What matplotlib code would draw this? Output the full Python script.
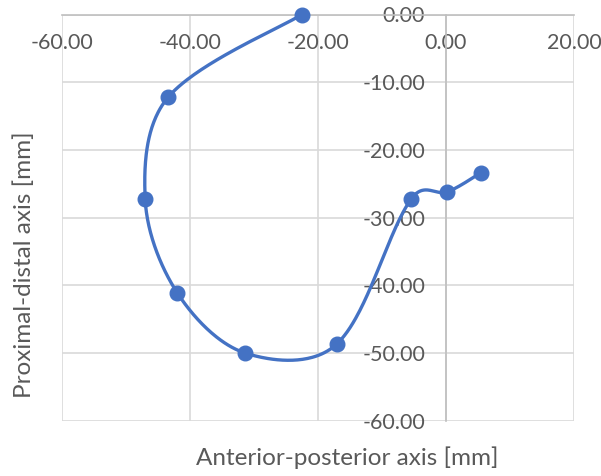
import numpy as np
import matplotlib
matplotlib.use("Agg")
import matplotlib.pyplot as plt

plt.rcParams['font.family'] = ['Lato', 'DejaVu Sans']

# Trajectory points (mm)
ap_mm = [-22.5, -43.4, -47.0, -42.0, -31.4, -17.1, -5.4, 0.2, 5.4]
pd_mm = [0.0, -12.2, -27.3, -41.1, -50.0, -48.7, -27.2, -26.2, -23.4]

x_ticks = [-60, -40, -20, 0, 20]
y_ticks = [0, -10, -20, -30, -40, -50, -60]

LINE = '#4472c4'
TEXT = '#595959'
GRID = '#d9d9d9'
AXIS = '#bfbfbf'


def smooth_curve(xs, ys, n=60):
    """Bezier spline through the points with chord-weighted tangents."""
    p = np.column_stack([xs, ys]).astype(float)
    p = np.vstack([p[0], p, p[-1]])
    out = []
    t = np.linspace(0, 1, n)
    for i in range(1, len(p) - 2):
        p0, p1, p2, p3 = p[i - 1], p[i], p[i + 1], p[i + 2]
        d01 = np.linalg.norm(p1 - p0)
        d12 = np.linalg.norm(p2 - p1)
        d23 = np.linalg.norm(p3 - p2)
        w1 = d12 / (3.0 * (d01 + d12)) if d01 > 0 else 1 / 6.0
        w2 = d12 / (3.0 * (d12 + d23)) if d23 > 0 else 1 / 6.0
        w1 = 0.5 * (w1 + 1 / 6.0)
        w2 = 0.5 * (w2 + 1 / 6.0)
        c1 = p1 + (p2 - p0) * w1
        c2 = p2 - (p3 - p1) * w2
        seg = ((1 - t) ** 3)[:, None] * p1 + (3 * (1 - t) ** 2 * t)[:, None] * c1 \
            + (3 * (1 - t) * t ** 2)[:, None] * c2 + (t ** 3)[:, None] * p2
        out.append(seg if i == 1 else seg[1:])
    return np.vstack(out)


fig = plt.figure(figsize=(6.01, 4.76), dpi=100)
ax = fig.add_axes([62 / 601, 1 - 420.7 / 476, 512 / 601, 406.2 / 476])

ax.set_xlim(-60, 20)
ax.set_ylim(-60, 0)

curve = smooth_curve(ap_mm, pd_mm)
ax.plot(curve[:, 0], curve[:, 1], color=LINE, lw=2.4, zorder=3, clip_on=False,
        solid_capstyle='round')
ax.plot(ap_mm, pd_mm, 'o', color=LINE, ms=10.5, zorder=4, clip_on=False)

ax.set_xticks(x_ticks)
ax.set_yticks(y_ticks)
ax.set_xticklabels([f"{v:.2f}" for v in x_ticks])
ax.set_yticklabels([f"{v:.2f}" for v in y_ticks])
ax.grid(True, color=GRID, lw=1.2, zorder=0)
ax.set_axisbelow(True)

for side in ('top', 'right'):
    ax.spines[side].set_visible(False)
ax.spines['left'].set_position(('data', 0))
ax.spines['bottom'].set_position(('data', 0))
for side in ('left', 'bottom'):
    ax.spines[side].set_color(AXIS)
    ax.spines[side].set_linewidth(1.2)
    ax.spines[side].set_zorder(1)

ax.tick_params(axis='both', length=0, labelsize=15.5, labelcolor=TEXT)
ax.tick_params(axis='x', pad=13)
ax.tick_params(axis='y', pad=15)

fig.text(347 / 601, 1 - 458 / 476, "Anterior-posterior axis [mm]", ha='center',
         va='center', fontsize=17.5, color=TEXT)
fig.text(24 / 601, 1 - 265 / 476, "Proximal-distal axis [mm]", ha='center',
         va='center', rotation=90, fontsize=17.5, color=TEXT)

fig.savefig("out.png", dpi=100)
